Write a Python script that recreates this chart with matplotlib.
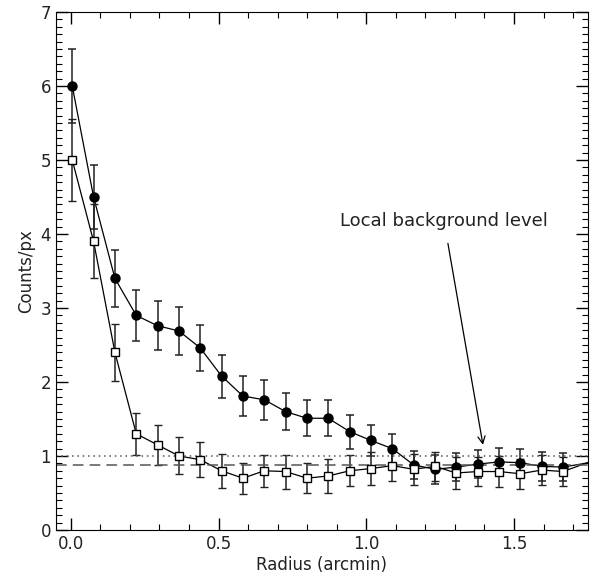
import numpy as np
import matplotlib
matplotlib.use("Agg")
import matplotlib.pyplot as plt
from matplotlib.ticker import MultipleLocator

# radial profile, bin width ~0.072 arcmin
radius = [0.005 + 0.0722 * i for i in range(24)]

src = [6.0, 4.5, 3.4, 2.9, 2.76, 2.69, 2.46, 2.08, 1.81, 1.76, 1.60, 1.51,
       1.51, 1.33, 1.21, 1.10, 0.88, 0.82, 0.85, 0.89, 0.92, 0.91, 0.86, 0.85]
src_err = [0.5, 0.43, 0.38, 0.34, 0.33, 0.33, 0.31, 0.29, 0.27, 0.27, 0.25, 0.24,
           0.24, 0.23, 0.21, 0.20, 0.19, 0.2, 0.19, 0.19, 0.19, 0.18, 0.2, 0.19]

ref = [5.0, 3.9, 2.4, 1.30, 1.15, 1.0, 0.95, 0.80, 0.70, 0.80, 0.79, 0.70,
       0.73, 0.80, 0.83, 0.87, 0.82, 0.86, 0.77, 0.79, 0.79, 0.76, 0.81, 0.79]
ref_err = [0.55, 0.5, 0.38, 0.28, 0.27, 0.25, 0.24, 0.23, 0.21, 0.22, 0.23, 0.2,
           0.23, 0.21, 0.22, 0.21, 0.21, 0.2, 0.21, 0.2, 0.21, 0.2, 0.2, 0.2]

# next bin, just outside the plotted range
x_next = 1.805
src_next = 0.944
ref_next = 0.99

bkg_local = 1.0
bkg_mean = 0.885

plt.rcParams['font.family'] = 'DejaVu Sans'
fig = plt.figure(figsize=(5.92, 5.81), dpi=100)
ax = fig.add_axes([0.0946, 0.0878, 0.8984, 0.8915])

ax.plot(radius + [x_next], src + [src_next], color='black', lw=0.9)
ax.errorbar(radius, src, yerr=src_err, fmt='o', color='black', ms=6.5,
            elinewidth=1.1, capsize=3, capthick=1.1, ecolor='#222222')
ax.plot(radius + [x_next], ref + [ref_next], color='black', lw=0.9)
ax.errorbar(radius, ref, yerr=ref_err, fmt='s', color='black', mfc='white',
            ms=6, mew=1, elinewidth=1.1, capsize=3, capthick=1.1, ecolor='#222222')

ax.axhline(bkg_local, color='#555555', ls=(0, (1, 2.5)), lw=1.1)
ax.axhline(bkg_mean, color='#555555', ls=(0, (7, 4)), lw=1.1)

ax.annotate('Local background level', xy=(1.395, 1.15), xytext=(1.263, 4.18),
            ha='center', va='center', fontsize=13, color='#222222',
            arrowprops=dict(arrowstyle='->', color='black', lw=0.9,
                            shrinkA=8, shrinkB=0))

ax.set_xlim(-0.05, 1.75)
ax.set_ylim(0, 7)
ax.xaxis.set_major_locator(MultipleLocator(0.5))
ax.xaxis.set_minor_locator(MultipleLocator(0.1))
ax.yaxis.set_major_locator(MultipleLocator(1))
ax.yaxis.set_minor_locator(MultipleLocator(0.1))
ax.xaxis.set_major_formatter(matplotlib.ticker.FormatStrFormatter('%.1f'))
ax.tick_params(which='both', direction='in', top=True, right=True,
               labelsize=12, labelcolor='#222222')
ax.tick_params(which='major', length=8.5, width=1)
ax.tick_params(which='minor', length=4.3, width=0.8)
ax.set_xlabel('Radius (arcmin)', fontsize=12, labelpad=2, color='#222222')
ax.set_ylabel('Counts/px', fontsize=12, labelpad=4, color='#222222')

fig.savefig('out.png', dpi=100)
